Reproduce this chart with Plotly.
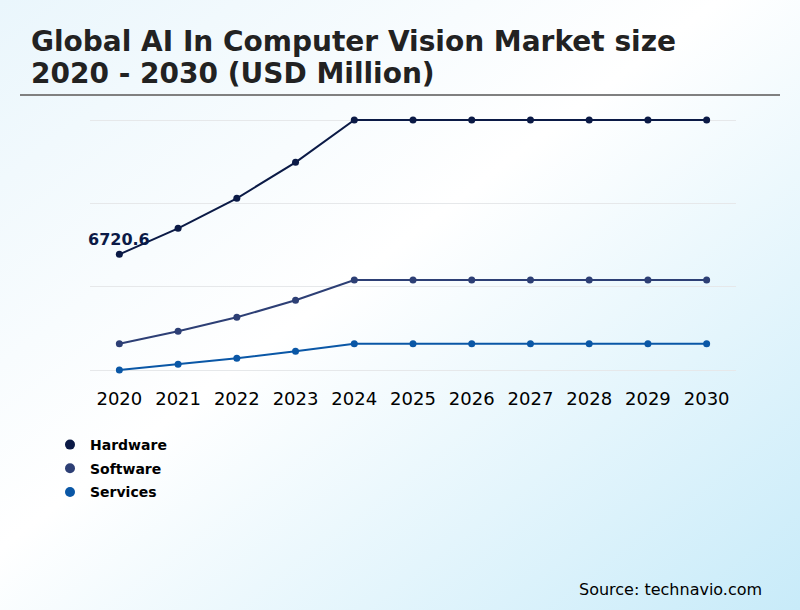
import base64
import plotly.graph_objects as go

years = [2020, 2021, 2022, 2023, 2024, 2025, 2026, 2027, 2028, 2029, 2030]
hardware = [6720.6, 8118, 9731, 11666, 13941, 13941, 13941, 13941, 13941, 13941, 13941]
software = [1914, 2580, 3333, 4247, 5338, 5338, 5338, 5338, 5338, 5338, 5338]
services = [500, 806, 1129, 1505, 1914, 1914, 1914, 1914, 1914, 1914, 1914]
series_names = ["Hardware", "Software", "Services"]
series_colors = ["#0b1a46", "#2d3f75", "#0a57a6"]
label_text = "6720.6"
title_lines = ["Global AI In Computer Vision Market size", "2020 - 2030 (USD Million)"]
source_text = "Source: technavio.com"

ymin, ymax = 500, 13941
span = ymax - ymin
grid_vals = [ymin + span * i / 3 for i in range(4)]
pad = span * 10 / 250

fig = go.Figure()
for name, vals, col in zip(series_names, [hardware, software, services], series_colors):
    fig.add_trace(go.Scatter(
        x=years, y=vals, name=name, mode="lines+markers",
        line=dict(color=col, width=2),
        marker=dict(color=col, size=7),
        cliponaxis=False, showlegend=False,
    ))
# legend entries (markers only)
for name, col in zip(series_names, series_colors):
    fig.add_trace(go.Scatter(
        x=[None], y=[None], name=name, mode="markers",
        marker=dict(color=col, size=10), legendgroup=name, showlegend=True,
    ))

svg = ('<svg xmlns="http://www.w3.org/2000/svg" width="800" height="610">'
       '<defs><linearGradient id="g" x1="0" y1="0" x2="1" y2="1">'
       '<stop offset="0" stop-color="#eaf6fc"/>'
       '<stop offset="0.45" stop-color="#ffffff"/>'
       '<stop offset="1" stop-color="#c8ebf9"/>'
       '</linearGradient></defs>'
       '<rect width="800" height="610" fill="url(#g)"/></svg>')
src = "data:image/svg+xml;base64," + base64.b64encode(svg.encode()).decode()

L, R, T, B = 90, 64, 110, 230
W, H = 800, 610
pw, ph = W - L - R, H - T - B

def px_to_paper_x(px):
    return (px - L) / pw

def px_to_paper_y(py):
    return (H - B - py) / ph

fig.update_layout(
    width=W, height=H,
    margin=dict(l=L, r=R, t=T, b=B),
    paper_bgcolor="rgba(0,0,0,0)", plot_bgcolor="rgba(0,0,0,0)",
    font=dict(family="DejaVu Sans", color="#000000"),
    images=[dict(source=src, xref="paper", yref="paper",
                 x=px_to_paper_x(0), y=px_to_paper_y(0),
                 sizex=W / pw, sizey=H / ph, sizing="stretch",
                 xanchor="left", yanchor="top", layer="below")],
    xaxis=dict(range=[2019.5, 2030.5], tickvals=years, ticktext=[str(y) for y in years],
               showgrid=False, zeroline=False, showline=False, ticks="",
               ticklabelstandoff=6,
               tickfont=dict(size=18, color="#000000"), fixedrange=True),
    yaxis=dict(range=[ymin - pad, ymax + pad], tickvals=grid_vals, showticklabels=False,
               showgrid=True, gridcolor="#e6e8ea", gridwidth=1, zeroline=False,
               showline=False, fixedrange=True),
    showlegend=True,
    legend=dict(x=px_to_paper_x(50), y=px_to_paper_y(429), xanchor="left", yanchor="top",
                bgcolor="rgba(0,0,0,0)", font=dict(size=14, color="#000000", weight="bold"),
                itemwidth=30, tracegroupgap=2.5),
    shapes=[dict(type="line", xref="paper", yref="paper",
                 x0=px_to_paper_x(20), x1=px_to_paper_x(780),
                 y0=px_to_paper_y(95), y1=px_to_paper_y(95),
                 line=dict(color="#808080", width=2))],
    annotations=[
        dict(text=title_lines[0], xref="paper", yref="paper",
             x=px_to_paper_x(29), y=px_to_paper_y(41),
             xanchor="left", yanchor="middle", align="left", showarrow=False,
             font=dict(family="DejaVu Sans", size=28, color="#222222", weight="bold")),
        dict(text=title_lines[1], xref="paper", yref="paper",
             x=px_to_paper_x(29), y=px_to_paper_y(73),
             xanchor="left", yanchor="middle", align="left", showarrow=False,
             font=dict(family="DejaVu Sans", size=28, color="#222222", weight="bold")),
        dict(text=label_text, x=years[0], y=hardware[0], xref="x", yref="y",
             yshift=15, xanchor="center", yanchor="middle", showarrow=False,
             font=dict(family="DejaVu Sans", size=16, color="#0b1a46", weight="bold")),
        dict(text=source_text, xref="paper", yref="paper",
             x=px_to_paper_x(764), y=px_to_paper_y(589), xanchor="right", yanchor="middle",
             showarrow=False, font=dict(family="DejaVu Sans", size=16, color="#000000")),
    ],
)

fig.write_html("out.html", config={"displayModeBar": False},
               post_script="document.body.style.margin='0';")
